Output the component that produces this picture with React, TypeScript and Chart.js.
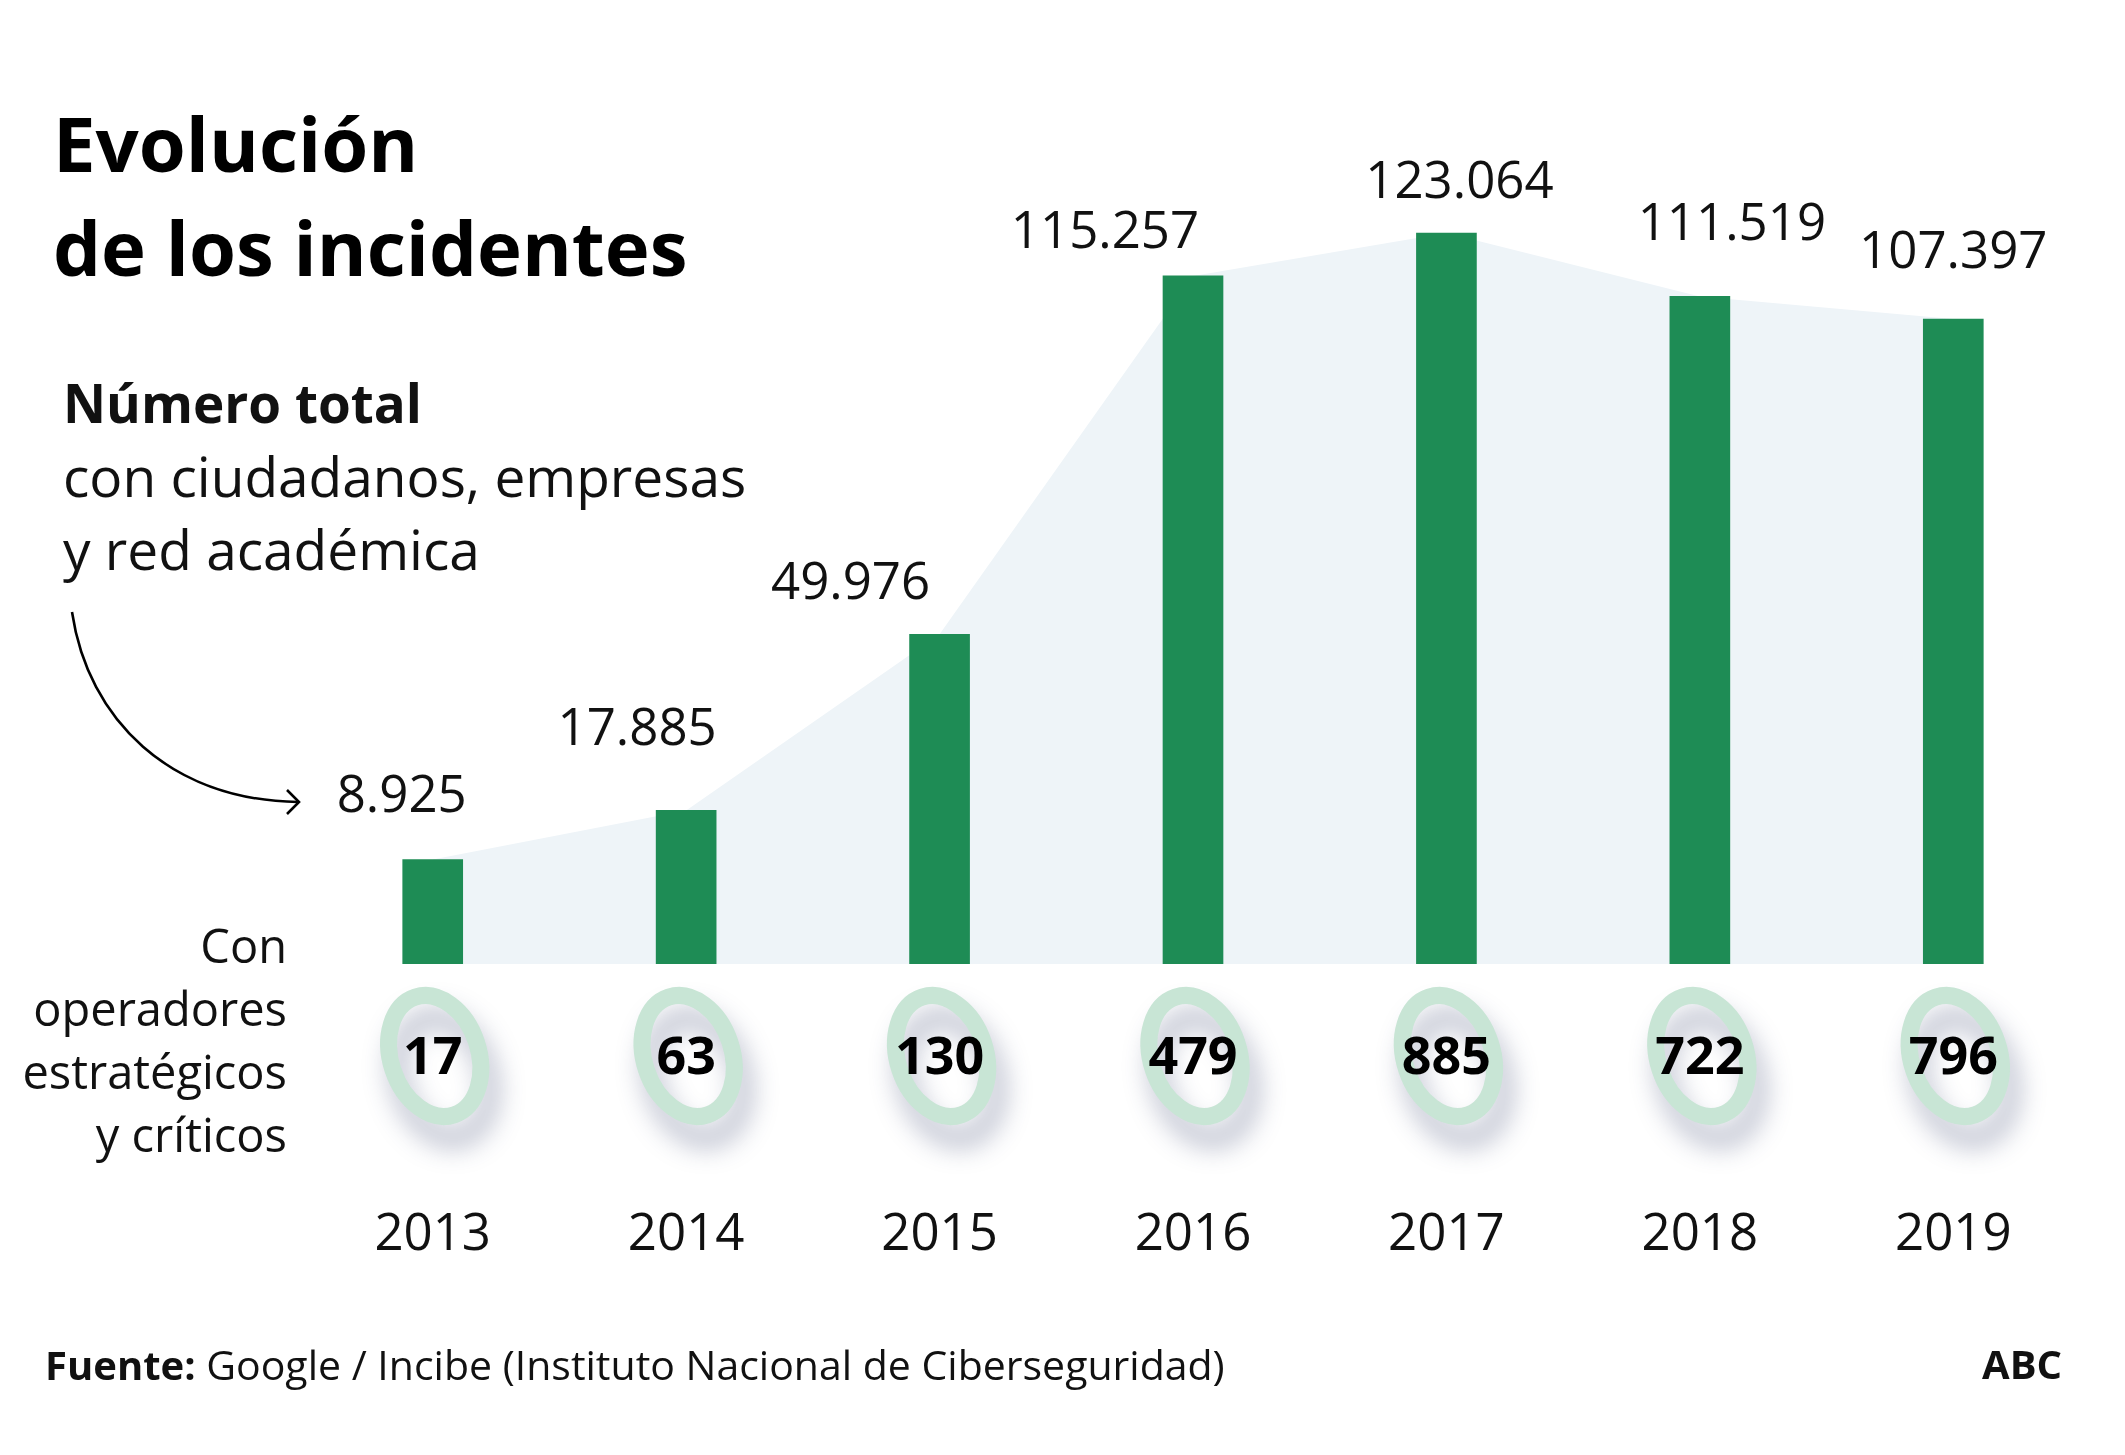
import React, { useEffect, useRef } from "react";
import { Chart, registerables } from "chart.js";

Chart.register(...registerables);

// ---- Data ----
const years = ["2013", "2014", "2015", "2016", "2017", "2018", "2019"];
const totalIncidents = [8925, 17885, 49976, 115257, 123064, 111519, 107397];
const operatorIncidents = [17, 63, 130, 479, 885, 722, 796];

// ---- Layout constants (not data) ----
const W = 2125;
const H = 1455;
const Y_MIN = -10100;
const Y_MAX = 130000;
const LABEL_DX = [-31, -49, -89, -88, 13, 32, 0];
const LABEL_DY = [48, 65, 35, 28, 35, 56, 51];
const FONT = '"Open Sans", "Noto Sans", sans-serif';
const BAR_GREEN = "#1E8C55";
const AREA_FILL = "#EEF4F8";
const RING = "#C8E5D5";

const fmt = (n: number) => n.toString().replace(/\B(?=(\d{3})+(?!\d))/g, ".");

const labelsPlugin = {
  id: "customLabels",
  afterDatasetsDraw(chart: any) {
    const ctx = chart.ctx as CanvasRenderingContext2D;
    const xs = chart.scales.x;
    const ys = chart.scales.y;
    const bottom = chart.chartArea.bottom;
    ctx.save();
    // value labels above bars
    ctx.fillStyle = "#111";
    ctx.font = `400 51px ${FONT}`;
    ctx.textAlign = "center";
    ctx.textBaseline = "alphabetic";
    totalIncidents.forEach((v, i) => {
      const x = xs.getPixelForValue(i) + LABEL_DX[i];
      const y = ys.getPixelForValue(v) - LABEL_DY[i];
      ctx.fillText(fmt(v), x, y);
    });
    // rings with operator counts
    operatorIncidents.forEach((v, i) => {
      const cx = xs.getPixelForValue(i) + 2;
      const cy = bottom + 92;
      ctx.save();
      ctx.shadowColor = "rgba(50,60,105,0.36)";
      ctx.shadowBlur = 26;
      ctx.shadowOffsetX = 9;
      ctx.shadowOffsetY = 22;
      ctx.beginPath();
      ctx.ellipse(cx, cy, 44, 62, -0.32, 0, Math.PI * 2);
      ctx.strokeStyle = RING;
      ctx.lineWidth = 17;
      ctx.stroke();
      ctx.restore();
      ctx.fillStyle = "#000";
      ctx.font = `700 52px ${FONT}`;
      ctx.textAlign = "center";
      ctx.textBaseline = "alphabetic";
      ctx.fillText(String(v), xs.getPixelForValue(i), bottom + 110);
    });
    // year labels
    ctx.fillStyle = "#111";
    ctx.font = `400 51px ${FONT}`;
    ctx.textAlign = "center";
    years.forEach((y, i) => {
      ctx.fillText(y, xs.getPixelForValue(i), bottom + 286);
    });
    ctx.restore();
  },
};

export default function App() {
  const canvasRef = useRef<HTMLCanvasElement | null>(null);

  useEffect(() => {
    const canvas = canvasRef.current;
    if (!canvas) return;
    const chart = new Chart(canvas, {
      type: "bar",
      data: {
        labels: years,
        datasets: [
          {
            type: "bar",
            label: "Total",
            data: totalIncidents,
            base: Y_MIN,
            backgroundColor: BAR_GREEN,
            barThickness: 60,
            order: 1,
          } as any,
          {
            type: "line",
            label: "Área",
            data: totalIncidents,
            fill: "start",
            backgroundColor: AREA_FILL,
            borderWidth: 0,
            borderColor: "rgba(0,0,0,0)",
            pointRadius: 0,
            tension: 0,
            order: 2,
          } as any,
        ],
      },
      options: {
        responsive: false,
        animation: false,
        devicePixelRatio: 1,
        layout: { padding: { left: 306, right: 45, top: 195, bottom: 491 } },
        plugins: { legend: { display: false }, tooltip: { enabled: false } },
        scales: {
          x: { display: false, offset: true, grid: { display: false } },
          y: { display: false, min: Y_MIN, max: Y_MAX, grid: { display: false } },
        },
      },
      plugins: [labelsPlugin],
    });
    return () => chart.destroy();
  }, []);

  const txt: React.CSSProperties = { position: "absolute", fontFamily: FONT, color: "#111", whiteSpace: "nowrap", margin: 0 };

  return (
    <div style={{ position: "absolute", left: 0, top: 0, width: W, height: H, background: "#fff", overflow: "hidden" }}>
      <canvas ref={canvasRef} width={W} height={H} style={{ position: "absolute", left: 0, top: 0, width: W, height: H }} />
      <div style={{ ...txt, left: 53, top: 91, fontSize: 76, lineHeight: "104px", fontWeight: 700, color: "#000" }}>
        Evolución
        <br />
        de los incidentes
      </div>
      <div style={{ ...txt, left: 63, top: 365, fontSize: 55, lineHeight: "73px" }}>
        <span style={{ fontWeight: 700, fontSize: 53 }}>Número total</span>
        <br />
        con ciudadanos, empresas
        <br />y red académica
      </div>
      <div style={{ ...txt, left: 0, width: 287, textAlign: "right", top: 914, fontSize: 47, lineHeight: "63px" }}>
        Con
        <br />
        operadores
        <br />
        estratégicos
        <br />y críticos
      </div>
      <svg width={W} height={H} style={{ position: "absolute", left: 0, top: 0, pointerEvents: "none" }}>
        <path d="M72 612 C 88 720, 170 800, 298 802" fill="none" stroke="#000" strokeWidth={2.6} />
        <polyline points="287,790 299,802 287,814" fill="none" stroke="#000" strokeWidth={2.6} />
      </svg>
      <div style={{ ...txt, left: 45, top: 1339, fontSize: 41, lineHeight: "50px" }}>
        <span style={{ fontWeight: 700, fontSize: 40 }}>Fuente:</span> Google / Incibe (Instituto Nacional de Ciberseguridad)
      </div>
      <div style={{ ...txt, right: W - 2062, top: 1339, fontSize: 40, lineHeight: "50px", fontWeight: 700 }}>ABC</div>
    </div>
  );
}
